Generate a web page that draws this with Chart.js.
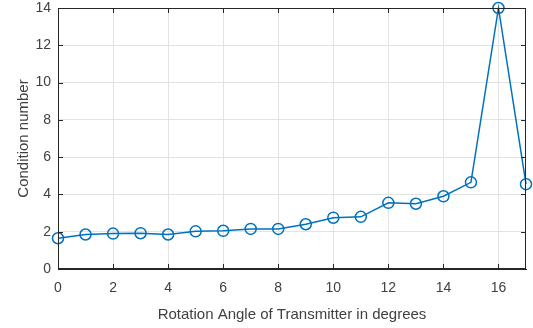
<!DOCTYPE html>
<html>
<head>
<meta charset="utf-8">
<script src="https://cdn.jsdelivr.net/npm/chart.js@4/dist/chart.umd.min.js"></script>
<style>
    html, body { margin: 0; padding: 0; background: #fff; }
    #wrap { width: 533px; height: 328px; }
</style>
</head>
<body>
<div id="wrap"><canvas id="chart"></canvas></div>
<script>
// Data
const angles = [0, 1, 2, 3, 4, 5, 6, 7, 8, 9, 10, 11, 12, 13, 14, 15, 16, 17];
const conditionNumbers = [1.65, 1.85, 1.9, 1.92, 1.85, 2.02, 2.05, 2.15, 2.15, 2.4, 2.75, 2.8, 3.55, 3.5, 3.9, 4.65, 14, 4.55];
const xTicks = [0, 2, 4, 6, 8, 10, 12, 14, 16];
const yTicks = [0, 2, 4, 6, 8, 10, 12, 14];

const textColor = '#404040';
const axisColor = '#262626';
const lineColor = '#0072BD';

// box around the plot plus small inward ticks, MATLAB style
const boxPlugin = {
    id: 'box',
    afterDatasetsDraw(chart) {
        const { ctx, chartArea: a, scales } = chart;
        ctx.save();
        ctx.strokeStyle = axisColor;
        ctx.lineWidth = 1;
        ctx.strokeRect(a.left + 0.5, a.top + 0.5, a.right - a.left - 1, a.bottom - a.top - 1);
        ctx.beginPath();
        scales.x.ticks.forEach(t => {
            const px = Math.round(scales.x.getPixelForValue(t.value)) + 0.5;
            ctx.moveTo(px, a.bottom); ctx.lineTo(px, a.bottom - 5);
            ctx.moveTo(px, a.top); ctx.lineTo(px, a.top + 5);
        });
        scales.y.ticks.forEach(t => {
            const py = Math.round(scales.y.getPixelForValue(t.value)) + 0.5;
            ctx.moveTo(a.left, py); ctx.lineTo(a.left + 5, py);
            ctx.moveTo(a.right, py); ctx.lineTo(a.right - 5, py);
        });
        ctx.stroke();
        ctx.restore();
    }
};

new Chart(document.getElementById('chart'), {
    type: 'line',
    data: {
        datasets: [{
            data: angles.map((a, i) => ({ x: a, y: conditionNumbers[i] })),
            borderColor: lineColor,
            borderWidth: 1.5,
            pointStyle: 'circle',
            pointRadius: 5.5,
            pointBorderWidth: 1.5,
            pointBorderColor: lineColor,
            pointBackgroundColor: 'rgba(0,0,0,0)',
            tension: 0,
            clip: false
        }]
    },
    options: {
        responsive: true,
        maintainAspectRatio: false,
        animation: false,
        layout: { padding: { top: 8, right: 7, left: 0, bottom: 0 } },
        plugins: {
            legend: { display: false },
            tooltip: { enabled: false }
        },
        scales: {
            x: {
                type: 'linear',
                min: 0,
                max: 17,
                afterBuildTicks: s => { s.ticks = xTicks.map(v => ({ value: v })); },
                afterFit: s => { s.height = 59; },
                ticks: {
                    color: textColor,
                    font: { family: "'Liberation Sans', Arial, sans-serif", size: 14 },
                    padding: 11,
                    maxRotation: 0
                },
                grid: { color: '#e3e3e3', drawTicks: false },
                border: { color: axisColor },
                title: {
                    display: true,
                    text: 'Rotation Angle of Transmitter in degrees',
                    color: textColor,
                    font: { family: "'Liberation Sans', Arial, sans-serif", size: 15 },
                    padding: { top: 6, bottom: 4 }
                }
            },
            y: {
                type: 'linear',
                min: 0,
                max: 14,
                afterBuildTicks: s => { s.ticks = yTicks.map(v => ({ value: v })); },
                afterFit: s => {
                    s.width = 58;
                    s.paddingTop = 0;
                    s.paddingBottom = 0;
                },
                ticks: {
                    color: textColor,
                    font: { family: "'Liberation Sans', Arial, sans-serif", size: 14 },
                    padding: 7
                },
                grid: { color: '#e3e3e3', drawTicks: false },
                border: { color: axisColor },
                title: {
                    display: true,
                    text: 'Condition number',
                    color: textColor,
                    font: { family: "'Liberation Sans', Arial, sans-serif", size: 15 },
                    padding: { top: 15, bottom: 0 }
                }
            }
        }
    },
    plugins: [boxPlugin]
});
</script>
</body>
</html>
